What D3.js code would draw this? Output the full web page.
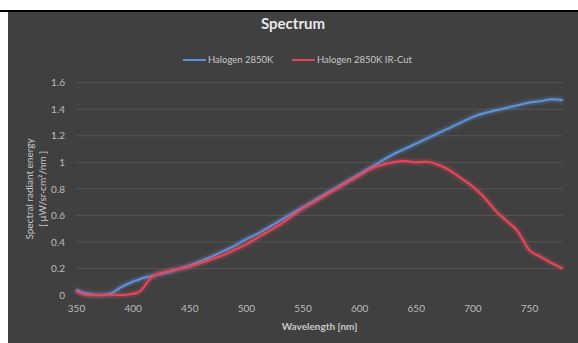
<!DOCTYPE html>
<html>
<head>
<meta charset="utf-8">
<script src="https://cdn.jsdelivr.net/npm/d3@7"></script>
<style>
  body { margin: 0; background: #fff; }
  svg { display: block; font-family: Lato, "Open Sans", sans-serif; }
</style>
</head>
<body>
<svg id="chart" width="578" height="343"></svg>
<script>
// wavelengths (nm)
const wavelengths = [350, 355, 360, 370, 380, 390, 400, 405, 410, 415, 420, 430, 440, 450, 460, 470, 480, 490,
  500, 510, 520, 530, 540, 550, 560, 570, 580, 590, 600, 610, 620, 630, 640, 650, 660, 670, 680, 690,
  700, 710, 720, 730, 740, 745, 750, 760, 770, 780];

const halogen = [0.04, 0.02, 0.01, 0.0, 0.01, 0.06, 0.10, 0.115, 0.13, 0.14, 0.15, 0.17, 0.195, 0.22, 0.255, 0.29, 0.33, 0.37,
  0.42, 0.46, 0.51, 0.56, 0.61, 0.66, 0.71, 0.76, 0.81, 0.86, 0.91, 0.96, 1.01, 1.06, 1.10, 1.14, 1.18, 1.22, 1.26, 1.30,
  1.34, 1.37, 1.39, 1.41, 1.43, 1.44, 1.45, 1.46, 1.475, 1.47];

const halogenIRCut = [0.03, 0.01, 0.0, 0.0, 0.0, 0.0, 0.01, 0.02, 0.06, 0.12, 0.15, 0.175, 0.195, 0.215, 0.24, 0.27, 0.30, 0.34,
  0.38, 0.43, 0.48, 0.53, 0.59, 0.65, 0.70, 0.75, 0.80, 0.85, 0.90, 0.95, 0.98, 1.0, 1.01, 1.0, 1.005, 0.98, 0.94, 0.88,
  0.82, 0.74, 0.64, 0.56, 0.48, 0.41, 0.34, 0.29, 0.24, 0.20];

const xTicks = [350, 400, 450, 500, 550, 600, 650, 700, 750];
const yTicks = [0, 0.2, 0.4, 0.6, 0.8, 1, 1.2, 1.4, 1.6];

const seriesNames = ['Halogen 2850K', 'Halogen 2850K IR-Cut'];
const seriesColors = ['#5e92d8', '#e4475a'];

const svg = d3.select('#chart');

// frame: white strip, black rule, dark panel
svg.append('rect').attr('x', 0).attr('y', 10).attr('width', 578).attr('height', 2).attr('fill', '#000');
svg.append('rect').attr('x', 8).attr('y', 12).attr('width', 570).attr('height', 331).attr('fill', '#404040');

const x = d3.scaleLinear().domain([350, 780]).range([76, 563]);
const y = d3.scaleLinear().domain([0, 1.6]).range([295, 82.7]);

// glow filter
const defs = svg.append('defs');
defs.append('filter').attr('id', 'glow')
  .attr('x', '-10%').attr('y', '-10%').attr('width', '120%').attr('height', '120%')
  .append('feGaussianBlur').attr('stdDeviation', 1.6);

// gridlines
svg.append('g')
  .selectAll('line')
  .data(yTicks.filter(d => d > 0))
  .join('line')
  .attr('x1', x(350))
  .attr('x2', x(780))
  .attr('y1', d => y(d))
  .attr('y2', d => y(d))
  .attr('stroke', '#5a5a5a')
  .attr('stroke-width', 0.8);

// y axis labels
const yAxis = svg.append('g')
  .attr('transform', `translate(${x(350)},0)`)
  .call(d3.axisLeft(y).tickValues(yTicks).tickSize(0).tickPadding(11)
    .tickFormat(d => String(+d.toFixed(1))));
yAxis.select('.domain').remove();
yAxis.selectAll('text').attr('fill', '#bdbdbd').attr('font-size', 10).attr('font-family', 'Lato, sans-serif');

// x axis labels
const xAxis = svg.append('g')
  .attr('transform', `translate(0,${y(0)})`)
  .call(d3.axisBottom(x).tickValues(xTicks).tickSize(0).tickPadding(10).tickFormat(d3.format('d')));
xAxis.select('.domain').remove();
xAxis.selectAll('text').attr('fill', '#bdbdbd').attr('font-size', 10).attr('font-family', 'Lato, sans-serif');

// lines
const line = d3.line()
  .x(d => x(d[0]))
  .y(d => y(d[1]))
  .curve(d3.curveMonotoneX);

[halogen, halogenIRCut].forEach((vals, i) => {
  const pts = wavelengths.map((w, j) => [w, vals[j]]);
  svg.append('path')
    .attr('d', line(pts))
    .attr('fill', 'none')
    .attr('stroke', seriesColors[i])
    .attr('stroke-width', 4.5)
    .attr('stroke-opacity', 0.45)
    .attr('filter', 'url(#glow)');
  svg.append('path')
    .attr('d', line(pts))
    .attr('fill', 'none')
    .attr('stroke', seriesColors[i])
    .attr('stroke-width', 2)
    .attr('stroke-linejoin', 'round');
});

// title
svg.append('text')
  .attr('x', 293)
  .attr('y', 29)
  .attr('text-anchor', 'middle')
  .attr('font-size', 15)
  .attr('font-weight', 'bold')
  .attr('fill', '#e8e8e8')
  .text('Spectrum');

// legend
const legendX = [183, 292];
seriesNames.forEach((name, i) => {
  const g = svg.append('g').attr('transform', `translate(${legendX[i]}, 60)`);
  g.append('line')
    .attr('x1', 0).attr('x2', 23).attr('y1', 0).attr('y2', 0)
    .attr('stroke', seriesColors[i]).attr('stroke-width', 2);
  g.append('text')
    .attr('x', 25).attr('y', 3.3)
    .attr('font-size', 9.5)
    .attr('fill', '#c8c8c8')
    .text(name);
});

// axis titles
svg.append('text')
  .attr('x', (x(350) + x(780)) / 2)
  .attr('y', 330)
  .attr('text-anchor', 'middle')
  .attr('font-size', 10)
  .attr('font-weight', 'bold')
  .attr('fill', '#c8c8c8')
  .text('Wavelength [nm]');

const yTitle = svg.append('text')
  .attr('transform', 'translate(0,189) rotate(-90)')
  .attr('text-anchor', 'middle')
  .attr('font-size', 10)
  .attr('fill', '#c8c8c8');
yTitle.append('tspan').attr('x', 0).attr('y', 33).text('Spectral radiant energy');
yTitle.append('tspan').attr('x', 0).attr('y', 46).text('[ μW/sr·cm²/nm ]');
</script>
</body>
</html>
